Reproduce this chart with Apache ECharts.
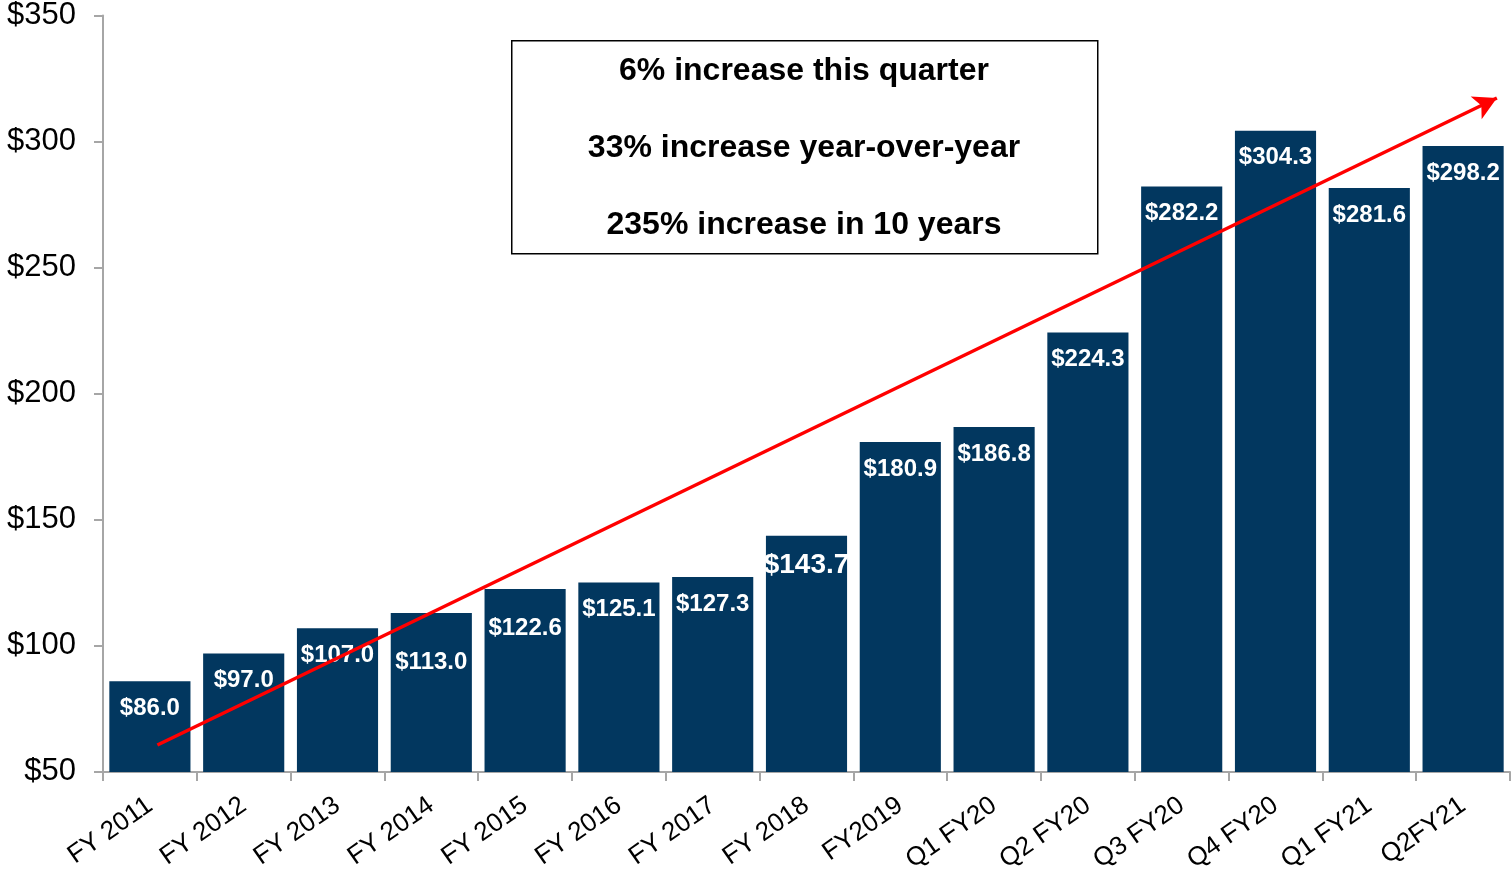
<!DOCTYPE html>
<html><head><meta charset="utf-8">
<script src="https://cdn.jsdelivr.net/npm/echarts@6/dist/echarts.min.js"></script>
<style>html,body{margin:0;padding:0;background:#fff}#c{width:1512px;height:875px}</style>
</head><body><div id="c"></div>
<script>
const categories = ['FY 2011','FY 2012','FY 2013','FY 2014','FY 2015','FY 2016','FY 2017','FY 2018','FY2019','Q1 FY20','Q2 FY20','Q3 FY20','Q4 FY20','Q1 FY21','Q2FY21'];
const values = [86.0, 97.0, 107.0, 113.0, 122.6, 125.1, 127.3, 143.7, 180.9, 186.8, 224.3, 282.2, 304.3, 281.6, 298.2];
const trendStart = [0.08, 60.7];
const trendEnd = [14.36, 317.3];
const boxLines = ['6% increase this quarter', '33% increase year-over-year', '235% increase in 10 years'];

const chart = echarts.init(document.getElementById('c'));
const FONT = '"Liberation Sans", Arial, sans-serif';
const labelOverrides = {3: {distance: 37}, 4: {distance: 27}, 7: {fontSize: 28, distance: 16}};
chart.setOption({
  animation: false,
  grid: {left: 103, right: 2, top: 14, bottom: 101, containLabel: false},
  xAxis: [{
    type: 'category', data: categories, boundaryGap: true,
    axisLine: {lineStyle: {color: '#a6a6a6', width: 2}},
    axisTick: {show: true, length: 9, lineStyle: {color: '#a6a6a6', width: 2}},
    axisLabel: {rotate: 35, margin: 31, fontSize: 26, color: '#000', fontFamily: FONT, interval: 0}
  }, {
    type: 'value', min: -0.5, max: 14.5, show: false
  }],
  yAxis: {
    type: 'value', min: 50, max: 350, interval: 50,
    splitLine: {show: false},
    axisLine: {show: true, onZero: false, lineStyle: {color: '#a6a6a6', width: 2}},
    axisTick: {show: true, length: 9, lineStyle: {color: '#a6a6a6', width: 2}},
    axisLabel: {fontSize: 31, color: '#000', fontFamily: FONT, margin: 27, formatter: v => '$' + v}
  },
  series: [{
    type: 'bar', data: values.map((v, i) => ({value: v, label: labelOverrides[i]})),
    barCategoryGap: '13.5%',
    itemStyle: {color: '#02375f'},
    label: {show: true, position: 'insideTop', distance: 15, color: '#fff', fontWeight: 'bold', fontSize: 24, fontFamily: FONT,
      formatter: p => '$' + p.value.toFixed(1)}
  }, {
    type: 'line', xAxisIndex: 1, data: [], symbol: 'none',
    markLine: {
      silent: true, symbol: ['none', 'arrow'], symbolSize: [19, 23],
      lineStyle: {color: '#ff0000', width: 3.5, type: 'solid'},
      label: {show: false},
      data: [[{coord: trendStart}, {coord: trendEnd}]]
    }
  }],
  graphic: [{
    type: 'rect', left: 511, top: 40, shape: {width: 586, height: 213},
    style: {fill: '#fff', stroke: '#000', lineWidth: 1.5}, z: 100
  }].concat(boxLines.map((t, i) => ({
    type: 'text', x: 804, y: 71 + i * 77, z: 101,
    style: {text: t, fill: '#000', font: 'bold 32px ' + FONT, textAlign: 'center', textVerticalAlign: 'middle'}
  })))
});
</script></body></html>
